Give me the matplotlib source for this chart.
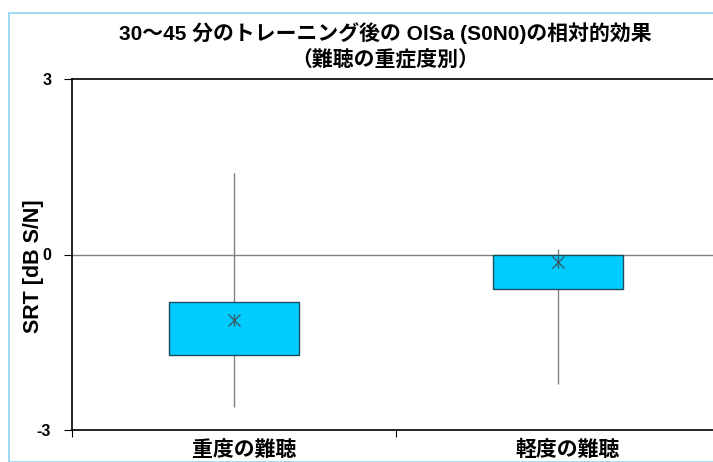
import matplotlib
matplotlib.use("Agg")
import matplotlib.pyplot as plt
from matplotlib.patches import Rectangle

plt.rcParams['font.family'] = ['Liberation Sans', 'Noto Sans CJK JP', 'DejaVu Sans']
plt.rcParams['font.weight'] = 'bold'

# SRT change per hearing-loss group
groups = ['重度の難聴', '軽度の難聴']
q1 = [-1.72, -0.59]
q3 = [-0.81, -0.01]
whisker_low = [-2.61, -2.21]
whisker_high = [1.39, 0.09]
means = [-1.12, -0.13]

title_lines = ['30〜45 分のトレーニング後の OlSa (S0N0)の相対的効果', '（難聴の重症度別）']

W, H = 713, 462
fig = plt.figure(figsize=(W / 100, H / 100), dpi=100)
ax = fig.add_axes([72 / W, 32 / H, 648 / W, 351 / H])

# chart-area border
fig.patches.append(Rectangle((9 / W, 0), 1, 1 - 13 / H, transform=fig.transFigure,
                             fill=False, edgecolor='#8fd3f0', linewidth=1.2))

xs = [0.5, 1.5]
ax.axhline(0, color='#808080', linewidth=1, zorder=1)
ax.vlines(xs, whisker_low, whisker_high, color='#808080', linewidth=1, zorder=2)
ax.bar(xs, [h - l for l, h in zip(q1, q3)], bottom=q1, width=0.4,
       color='#00ccff', edgecolor='#1d4d5c', linewidth=1, zorder=3)
ax.plot(xs, means, linestyle='none', marker='x', markersize=9, color='#3a5a66',
        markeredgewidth=1, zorder=4)
ax.plot(xs, means, linestyle='none', marker='|', markersize=9, color='#3a5a66',
        markeredgewidth=1, zorder=4)

ax.set_xlim(0, 2)
ax.set_ylim(-3, 3)
ax.set_yticks([-3, 0, 3])
ax.set_yticklabels(['-3', '0', '3'], fontsize=11.5, fontweight='bold')
ax.set_xticks([0, 1, 2])
ax.set_xticklabels([])
# category labels sit slightly right of the box centres
ax.set_xticks([x + 0.03 for x in xs], minor=True)
ax.set_xticklabels(groups, minor=True, fontsize=15, fontweight='bold')
ax.tick_params(axis='x', which='minor', length=0, pad=7)
ax.tick_params(axis='x', which='major', length=5, direction='out')
ax.tick_params(axis='y', length=6, direction='out', pad=9)
for side in ['left', 'top', 'bottom']:
    ax.spines[side].set_linewidth(1.2)
ax.spines['right'].set_visible(False)

fig.text(33 / W, 1 - 266 / H, 'SRT [dB S/N]', rotation=90, fontsize=15.5,
         fontweight='bold', ha='center', va='center')
fig.text(385 / W, 1 - 33 / H, title_lines[0], fontsize=15, fontweight='bold',
         ha='center', va='center')
fig.text(385 / W, 1 - 60 / H, title_lines[1], fontsize=15, fontweight='bold',
         ha='center', va='center')

fig.savefig('out.png', dpi=100)
